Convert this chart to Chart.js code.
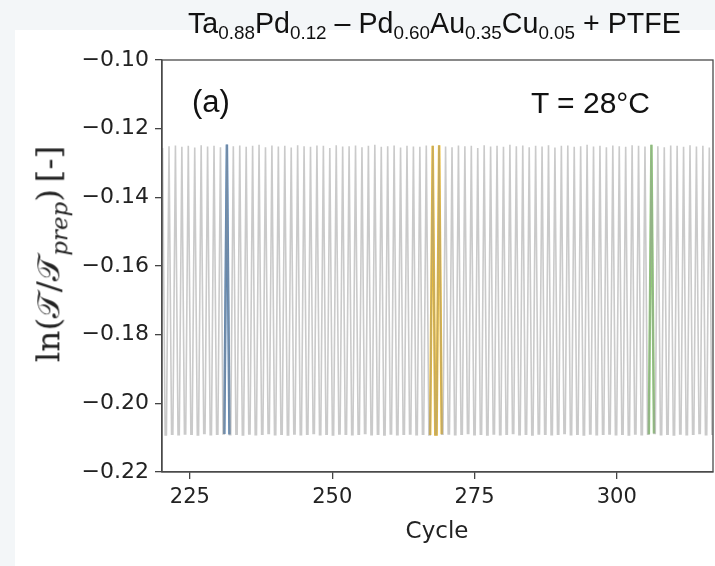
<!DOCTYPE html>
<html>
<head>
<meta charset="utf-8">
<script src="https://cdn.jsdelivr.net/npm/chart.js@4.4.0/dist/chart.umd.min.js"></script>
<style>
  html, body { margin: 0; padding: 0; }
  body { width: 715px; height: 566px; background: #f3f6f8; position: relative; overflow: hidden;
         font-family: "Liberation Sans", Arial, sans-serif; }
  #paper { position: absolute; left: 15px; top: 30px; right: 0; bottom: 0; background: #fff; }
  #wrap { position: absolute; left: 0; top: 0; width: 715px; height: 566px; }
  .lbl { position: absolute; white-space: nowrap; color: #111; line-height: 1; }
  .lbl sub { font-size: 0.66em; vertical-align: -0.3em; }
  #title { left: 188px; top: 9px; font-size: 28.6px; }
  #tag { left: 192px; top: 86px; font-size: 31px; }
  #temp { left: 531px; top: 88px; font-size: 30px; }
  #xlab { left: 437px; top: 530px; transform: translate(-50%, -50%); font-family: "DejaVu Sans"; font-size: 23px; color: #222; }
  #ylab { left: 52px; top: 254px; transform: translate(-50%, -50%) rotate(-90deg) scaleX(1.06);
          font-family: "DejaVu Serif", "Liberation Serif", serif; font-size: 31px; color: #222; }
  #ylab sub { font-size: 0.7em; vertical-align: -0.35em; font-style: italic; }
</style>
</head>
<body>
<div id="paper"></div>
<div id="wrap"><canvas id="chart" width="715" height="566"></canvas></div>
<div class="lbl" id="title">Ta<sub>0.88</sub>Pd<sub>0.12</sub> – Pd<sub>0.60</sub>Au<sub>0.35</sub>Cu<sub>0.05</sub> + PTFE</div>
<div class="lbl" id="tag">(a)</div>
<div class="lbl" id="temp">T = 28°C</div>
<div class="lbl" id="xlab">Cycle</div>
<div class="lbl" id="ylab">ln(𝒯/𝒯<sub>prep</sub>)&thinsp;[-]</div>
<script>
// cycle grid of the measured waveform (one peak per period)
const firstPeak = 220.2;
const period = 1.13;

// top of each peak and bottom of the following trough
const peakHigh = [
  -0.1256, -0.1251, -0.1249, -0.1253, -0.1250, -0.1255, -0.1248, -0.1252, -0.1250, -0.1254,
  -0.1246, -0.1251, -0.1249, -0.1253, -0.1250, -0.1247, -0.1254, -0.1249, -0.1252, -0.1250,
  -0.1255, -0.1248, -0.1251, -0.1253, -0.1249, -0.1250, -0.1256, -0.1248, -0.1252, -0.1251,
  -0.1249, -0.1254, -0.1250, -0.1247, -0.1253, -0.1251, -0.1249, -0.1255, -0.1250, -0.1252,
  -0.1253, -0.1249, -0.1250, -0.1248, -0.1252, -0.1254, -0.1249, -0.1251, -0.1250, -0.1256,
  -0.1248, -0.1252, -0.1250, -0.1253, -0.1247, -0.1251, -0.1249, -0.1254, -0.1250, -0.1252,
  -0.1248, -0.1255, -0.1250, -0.1249, -0.1253, -0.1251, -0.1247, -0.1252, -0.1250, -0.1254,
  -0.1249, -0.1251, -0.1253, -0.1248, -0.1250, -0.1252, -0.1247, -0.1251, -0.1254, -0.1249,
  -0.1250, -0.1253, -0.1248, -0.1252, -0.1250, -0.1255
];
const troughLow = [
  -0.2092, -0.2090, -0.2091, -0.2089, -0.2090, -0.2092, -0.2088, -0.2091, -0.2090, -0.2089,
  -0.2091, -0.2090, -0.2092, -0.2089, -0.2091, -0.2090, -0.2088, -0.2091, -0.2090, -0.2092,
  -0.2089, -0.2091, -0.2090, -0.2088, -0.2091, -0.2090, -0.2092, -0.2089, -0.2090, -0.2091,
  -0.2090, -0.2088, -0.2091, -0.2090, -0.2092, -0.2089, -0.2091, -0.2090, -0.2089, -0.2091,
  -0.2090, -0.2092, -0.2091, -0.2090, -0.2089, -0.2091, -0.2090, -0.2088, -0.2091, -0.2090,
  -0.2092, -0.2089, -0.2091, -0.2090, -0.2088, -0.2091, -0.2090, -0.2092, -0.2089, -0.2090,
  -0.2091, -0.2090, -0.2088, -0.2091, -0.2090, -0.2092, -0.2089, -0.2091, -0.2090, -0.2089,
  -0.2091, -0.2090, -0.2092, -0.2089, -0.2091, -0.2090, -0.2088, -0.2091, -0.2090, -0.2092,
  -0.2089, -0.2091, -0.2090, -0.2088, -0.2091, -0.2090
];

// highlighted periods (index into the arrays above)
const highlights = [
  { cycles: [10], color: "rgba(55, 110, 170, 0.85)" },
  { cycles: [42, 43], color: "rgba(240, 180, 10, 0.85)" },
  { cycles: [76], color: "rgba(125, 200, 95, 0.85)" }
];

const xTicks = [225, 250, 275, 300];
const yTicks = [-0.22, -0.20, -0.18, -0.16, -0.14, -0.12, -0.10];
const xMin = 220.1, xMax = 316.9;

function periodPoints(k) {
  const x = firstPeak + k * period;
  return [
    { x: x, y: peakHigh[k] },
    { x: x + 0.4 * period, y: troughLow[k] },
    { x: x + 0.6 * period, y: troughLow[k] }
  ];
}

const grey = [{ x: firstPeak - 0.4 * period, y: troughLow[0] }];
peakHigh.forEach((_, k) => grey.push(...periodPoints(k)));

const highlightSets = highlights.map(h => {
  const k0 = h.cycles[0];
  const pts = [{ x: firstPeak + (k0 - 0.4) * period, y: troughLow[Math.max(k0 - 1, 0)] }];
  h.cycles.forEach(k => pts.push(...periodPoints(k)));
  pts.pop();
  return {
    data: pts,
    borderColor: h.color,
    borderWidth: 2.5,
    pointRadius: 0,
    tension: 0
  };
});

const frame = {
  id: "frame",
  afterDatasetsDraw(chart) {
    const { ctx, chartArea: a } = chart;
    ctx.save();
    ctx.strokeStyle = "#4a4a4a";
    ctx.lineWidth = 1.3;
    ctx.strokeRect(a.left, a.top, a.right - a.left, a.bottom - a.top);
    ctx.restore();
  }
};

new Chart(document.getElementById("chart"), {
  type: "line",
  data: {
    datasets: [
      {
        data: grey,
        borderColor: "rgba(150, 150, 150, 0.5)",
        borderWidth: 1.6,
        pointRadius: 0,
        tension: 0
      },
      ...highlightSets
    ]
  },
  options: {
    responsive: false,
    animation: false,
    events: [],
    layout: { padding: { top: 60, right: 2, left: 0, bottom: 0 } },
    plugins: { legend: { display: false }, tooltip: { enabled: false } },
    scales: {
      x: {
        type: "linear",
        min: xMin,
        max: xMax,
        afterFit: s => { s.height = 94; },
        afterBuildTicks: s => { s.ticks = xTicks.map(v => ({ value: v })); },
        grid: { drawOnChartArea: false, color: "#444", tickLength: 7, lineWidth: 1.3 },
        border: { color: "#4a4a4a", width: 1.3 },
        ticks: { font: { family: "DejaVu Sans", size: 21 }, color: "#222", padding: 6, maxRotation: 0, callback: v => String(v) }
      },
      y: {
        min: -0.22,
        max: -0.10,
        afterFit: s => { s.width = 162; },
        afterBuildTicks: s => { s.ticks = yTicks.map(v => ({ value: v })); },
        grid: { drawOnChartArea: false, color: "#444", tickLength: 7, lineWidth: 1.3 },
        border: { color: "#4a4a4a", width: 1.3 },
        ticks: { font: { family: "DejaVu Sans", size: 22 }, color: "#222", padding: 6, callback: v => "\u2212" + Math.abs(v).toFixed(2) }
      }
    }
  },
  plugins: [frame]
});
</script>
</body>
</html>
